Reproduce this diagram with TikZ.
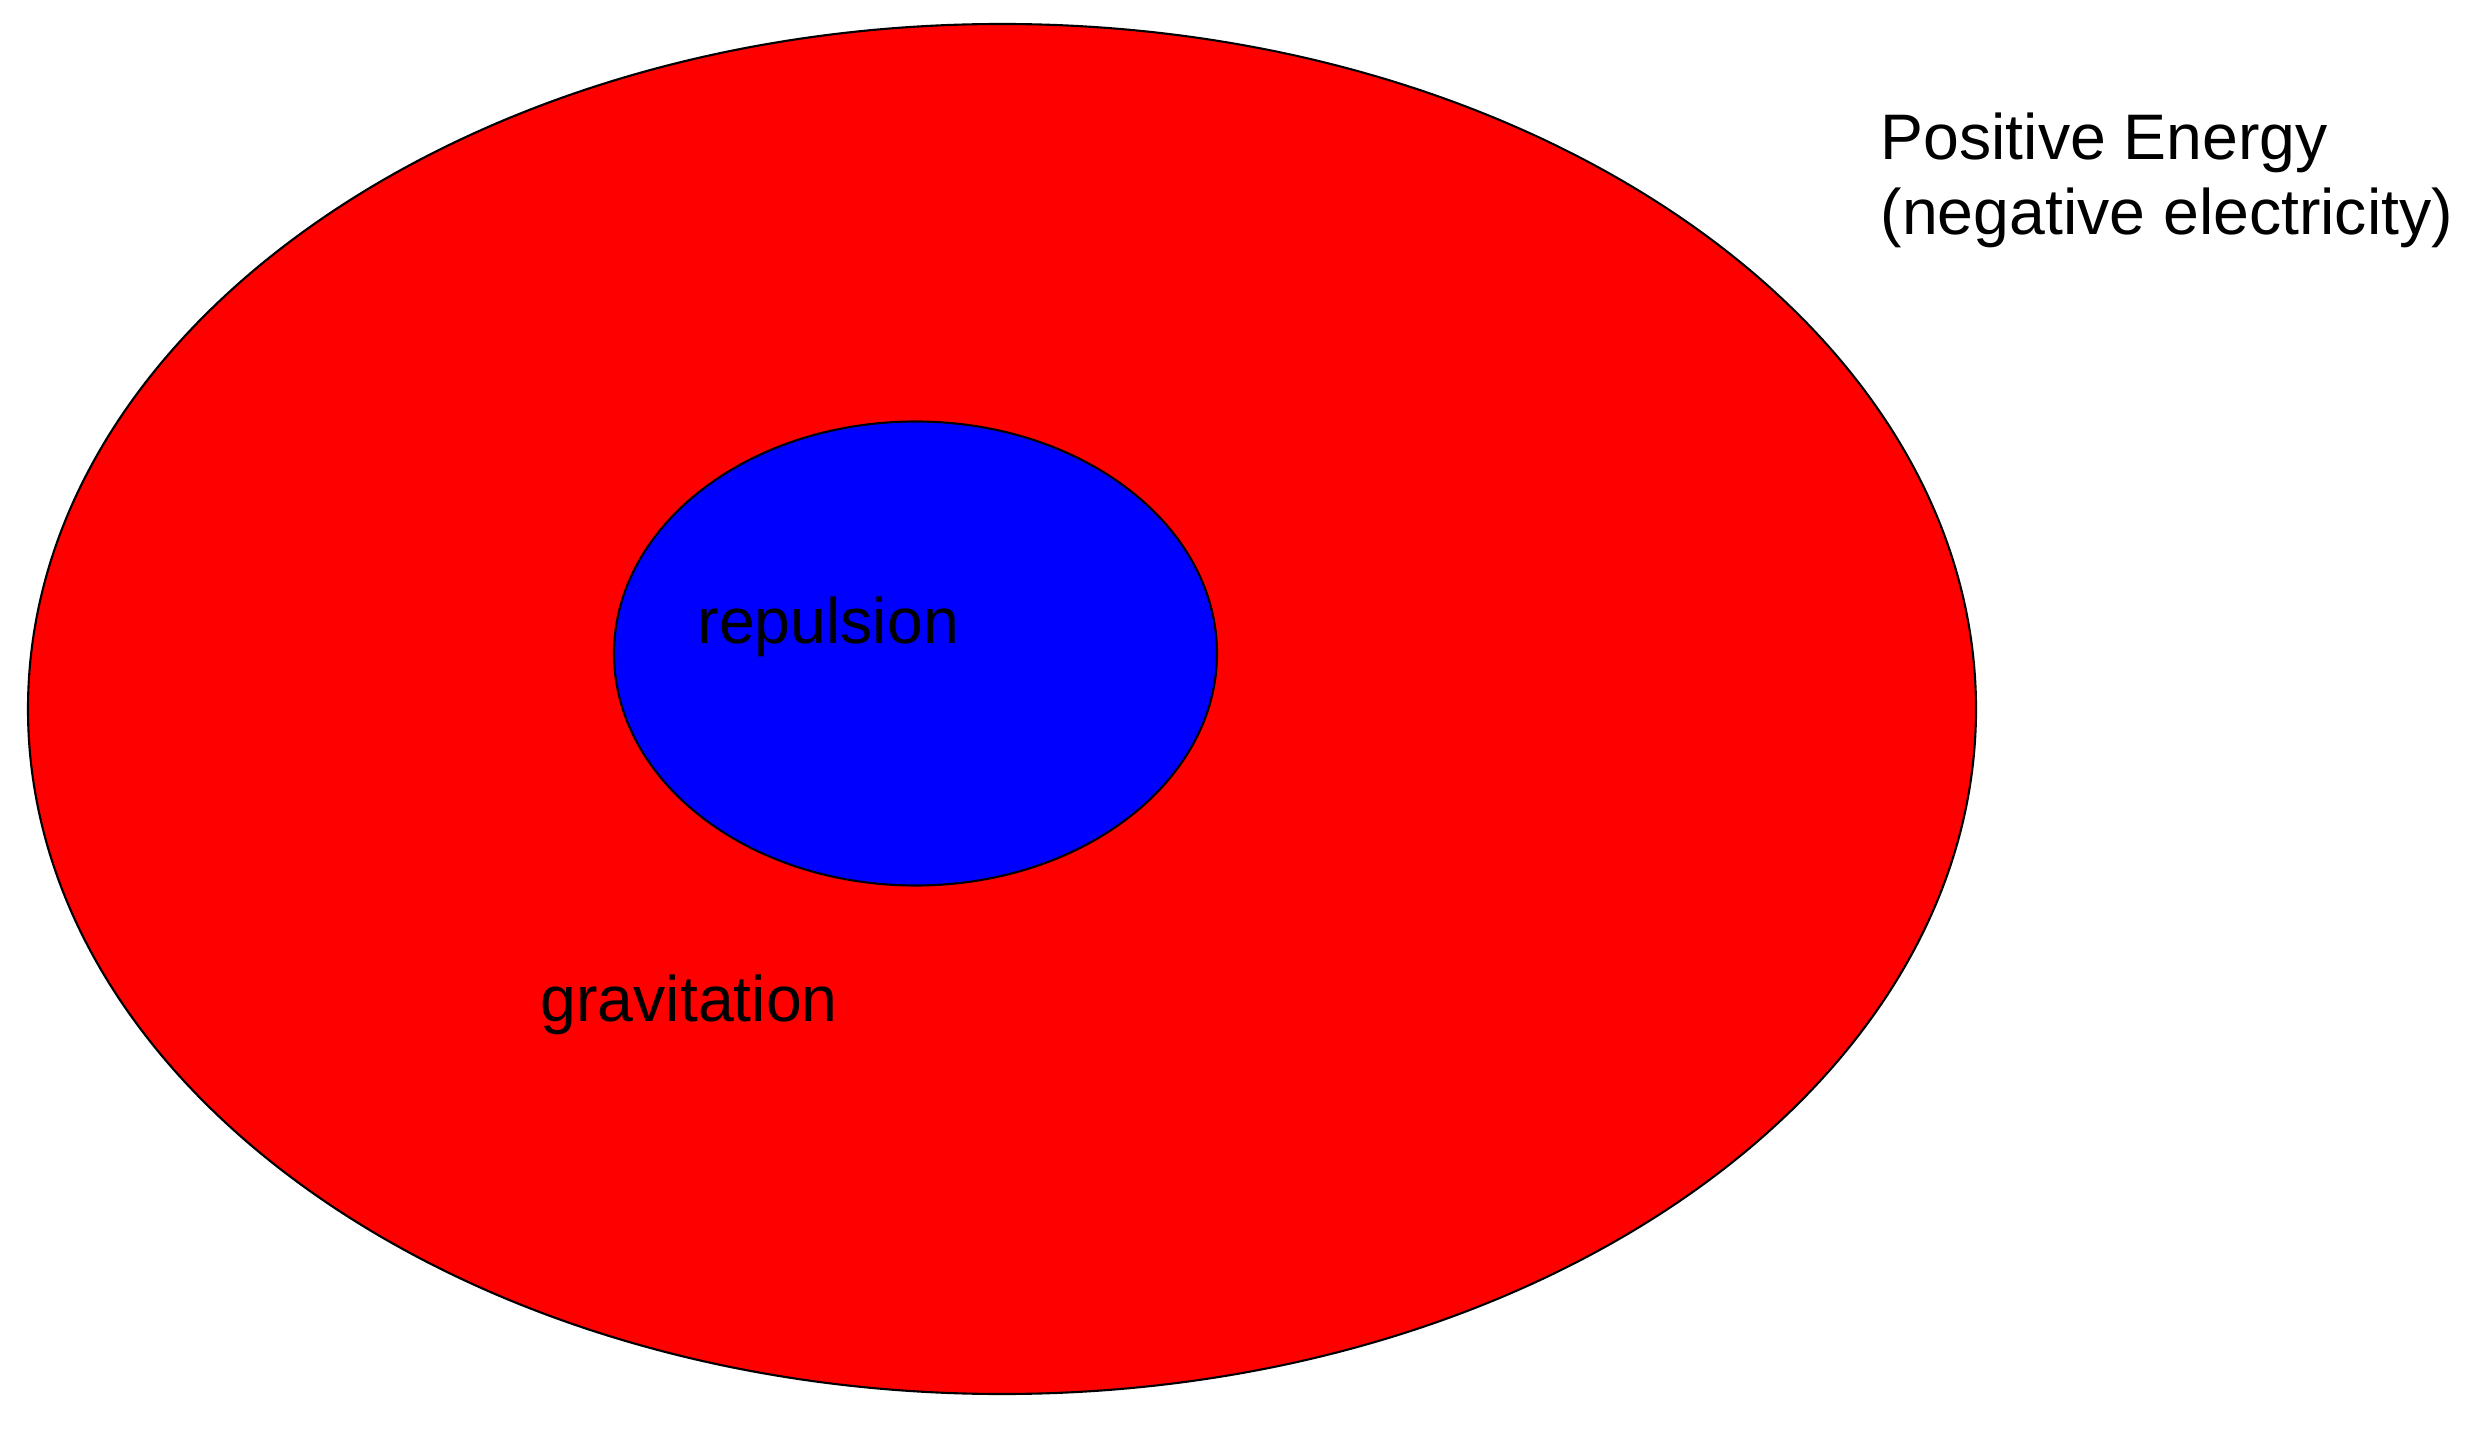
\documentclass[tikz,border=0pt]{standalone}
\usepackage{fontspec}
\setmainfont{Liberation Sans}
\begin{document}
\begin{tikzpicture}[x=0.01cm,y=-0.01cm,
  outline/.style={draw=black,line width=0.6pt},
  lbl/.style={inner sep=0pt,anchor=base west,font=\fontsize{18.3}{21.8}\selectfont}]
\useasboundingbox (0,0) rectangle (2470,1437);
\fill[white] (0,0) rectangle (2470,1437);
\filldraw[outline,fill={rgb,255:red,255;green,0;blue,0}] (1002,709) ellipse [x radius=974,y radius=685];
\filldraw[outline,fill={rgb,255:red,0;green,0;blue,255}] (915.5,653.5) ellipse [x radius=301.5,y radius=232];
\node[lbl] (rep) at (697,643) {repulsion};
\node[lbl] (grav) at (540,1021) {gravitation};
\node[lbl] (pos1) at (1880,160) {Positive Energy};
\node[lbl] (pos2) at (1880,235) {(negative electricity)};
\end{tikzpicture}
\end{document}
